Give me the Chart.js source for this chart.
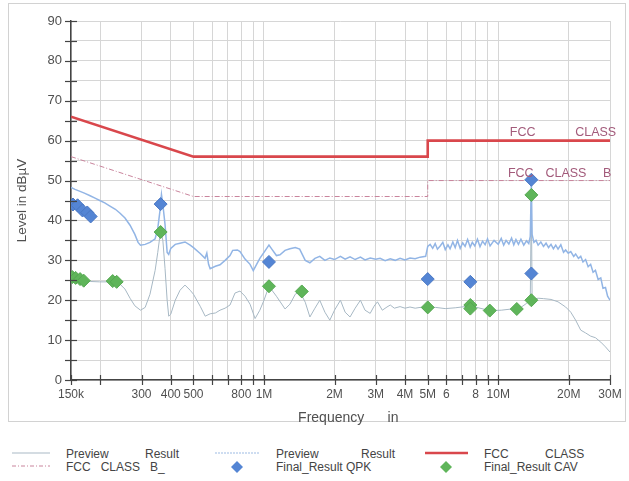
<!DOCTYPE html>
<html><head><meta charset="utf-8">
<script src="https://cdn.jsdelivr.net/npm/chart.js@4.4.0/dist/chart.umd.min.js"></script>
<style>
body{margin:0;background:#fff;width:629px;height:481px;overflow:hidden;font-family:"Liberation Sans",Arial,sans-serif;}
#frame{position:absolute;left:8px;top:3px;width:616px;height:417px;border:1px solid #d2d2d2;}
#wrap{position:absolute;left:0;top:0;width:629px;height:430px;}
.lg{position:absolute;font-size:12px;color:#444;line-height:13px;white-space:pre;}
svg{position:absolute;overflow:visible}
</style></head><body>
<div id="frame"></div>
<div id="wrap"><canvas id="c" width="629" height="430"></canvas></div>

<svg style="left:12px;top:448px" width="40" height="10"><line x1="0" y1="5" x2="38" y2="5" stroke="#a9b9c5" stroke-width="1"/></svg>
<div class="lg" style="left:66px;top:448px">Preview</div><div class="lg" style="left:145px;top:448px">Result</div>
<svg style="left:12px;top:461px" width="40" height="10"><line x1="0" y1="5" x2="38" y2="5" stroke="#c9849c" stroke-width="1" stroke-dasharray="4,2,1,2"/></svg>
<div class="lg" style="left:66px;top:461px">FCC   CLASS   B_</div>

<svg style="left:215px;top:448px" width="46" height="10"><line x1="0" y1="5" x2="45" y2="5" stroke="#9dbbe3" stroke-width="1" stroke-dasharray="2,1"/></svg>
<div class="lg" style="left:276px;top:448px">Preview</div><div class="lg" style="left:361px;top:448px">Result</div>
<svg style="left:231px;top:461px" width="12" height="12"><polygon points="6,0 12,6 6,12 0,6" fill="#5485d4"/></svg>
<div class="lg" style="left:276px;top:461px">Final_Result QPK</div>

<svg style="left:425px;top:448px" width="44" height="10"><line x1="0" y1="5" x2="43" y2="5" stroke="#d9474c" stroke-width="2.5"/></svg>
<div class="lg" style="left:484px;top:448px">FCC</div><div class="lg" style="left:545px;top:448px">CLASS</div>
<svg style="left:440px;top:461px" width="12" height="12"><polygon points="6,0 12,6 6,12 0,6" fill="#5fb55a"/></svg>
<div class="lg" style="left:484px;top:461px">Final_Result CAV</div>

<script>
// ---- data (frequency in MHz, level in dBµV) ----
const previewQpkFreq = [0.150,0.156,0.164,0.172,0.181,0.190,0.199,0.209,0.220,0.232,0.243,0.255,0.268,0.281,0.290,0.297,0.311,0.326,0.343,0.352,0.359,0.365,0.370,0.378,0.386,0.392,0.400,0.418,0.438,0.460,0.484,0.50,0.534,0.560,0.570,0.580,0.589,0.620,0.649,0.682,0.716,0.735,0.770,0.790,0.830,0.872,0.900,0.930,0.96,1.0,1.05,1.08,1.13,1.17,1.23,1.29,1.36,1.42,1.50,1.57,1.65,1.73,1.82,1.91,2.0,2.12,2.22,2.33,2.45,2.58,2.70,2.84,3.0,3.13,3.29,3.46,3.63,3.81,4.0,4.2,4.42,4.64,4.9,5.0,5.12,5.25,5.38,5.5,5.65,5.8,5.94,6.1,6.23,6.4,6.55,6.7,6.88,7.05,7.22,7.4,7.59,7.75,7.94,8.15,8.36,8.57,8.79,9.0,9.23,9.6,10.0,10.3,10.55,10.8,11.1,11.4,11.65,11.9,12.2,12.5,12.85,13.2,13.5,13.7,13.85,13.95,14.2,14.5,14.8,15.2,15.6,16.0,16.4,16.8,17.2,17.6,18.0,18.5,19.0,19.4,19.9,20.4,21.0,21.4,22.0,22.5,23.0,23.6,24.2,24.8,25.4,26.0,26.7,27.4,28.0,28.7,29.3,30.0];
const previewQpkLevel = [48.3,47.8,47.3,46.8,46.2,45.6,45.0,44.4,43.6,42.8,41.8,40.6,38.8,36.5,34.5,33.8,34.0,34.5,35.4,38.0,42.0,46.5,44.0,39.0,32.0,31.5,33.0,34.0,34.3,34.6,33.8,33.2,31.7,30.5,31.8,29.0,27.9,28.5,28.9,30.0,31.2,32.5,32.6,32.2,30.3,29.0,27.4,29.0,30.5,32.0,33.8,32.8,31.2,31.4,32.5,32.9,33.2,32.8,30.0,29.4,30.5,31.0,30.0,30.6,30.2,31.0,30.3,30.9,30.2,30.8,30.1,30.6,30.3,30.5,29.9,30.4,30.0,30.5,30.1,30.6,30.4,30.8,31.0,33.5,34.0,33.0,34.2,32.8,33.6,34.5,32.7,33.9,32.9,34.6,33.2,35.0,33.0,34.4,33.5,35.2,33.3,34.5,33.6,35.3,33.4,34.8,33.9,35.4,33.6,35.0,34.0,35.5,33.8,35.0,34.1,35.6,33.9,35.2,34.0,35.3,33.8,34.9,34.2,36.0,50.0,36.5,34.5,35.0,33.8,34.6,33.5,34.3,33.2,34.0,32.9,33.8,32.8,33.9,32.0,32.6,31.8,32.2,31.0,31.6,30.5,31.0,29.6,30.2,28.4,29.0,27.0,27.5,25.2,25.6,23.0,23.2,21.0,20.0];
const previewAvFreq = [0.150,0.156,0.164,0.172,0.181,0.199,0.220,0.232,0.243,0.255,0.268,0.281,0.297,0.311,0.326,0.343,0.352,0.362,0.370,0.378,0.386,0.392,0.400,0.418,0.438,0.460,0.484,0.50,0.534,0.561,0.589,0.620,0.649,0.682,0.716,0.752,0.790,0.830,0.872,0.916,0.96,1.0,1.05,1.13,1.23,1.29,1.36,1.42,1.50,1.57,1.65,1.73,1.82,1.91,2.0,2.12,2.22,2.33,2.45,2.58,2.70,2.84,2.95,3.05,3.2,3.35,3.46,3.6,3.81,4.0,4.2,4.42,4.64,5.0,5.4,5.94,6.55,7.22,7.6,8.36,9.2,10.3,11.4,12.5,13.2,13.7,13.85,13.95,14.8,15.6,16.8,18.0,19.4,20.4,21.4,22.5,23.6,24.8,26.0,27.4,28.7,30.0];
const previewAvLevel = [25.8,25.6,25.2,24.9,24.7,24.6,24.6,24.6,24.0,22.8,20.5,18.6,17.5,18.2,21.5,27.5,32.0,37.5,35.0,28.0,20.0,16.0,16.5,20.0,22.5,23.8,22.5,21.5,18.5,16.0,16.6,16.8,17.5,18.0,18.8,21.8,22.3,21.0,19.0,15.4,17.5,20.0,23.5,21.0,17.8,19.0,21.5,22.2,19.5,15.8,18.0,20.0,17.0,15.0,17.5,20.0,17.0,15.8,18.0,20.0,17.5,16.7,18.5,19.6,17.5,18.3,18.8,18.0,18.4,18.0,18.3,18.0,18.2,18.2,18.2,17.9,18.1,18.4,18.6,18.0,17.4,17.5,17.8,18.2,19.2,20.0,46.0,20.2,20.5,20.4,20.2,19.6,18.3,17.0,15.0,12.5,11.8,11.0,10.6,9.5,8.3,7.0];
const limitQpFreq = [0.15,0.5,5,5,30];
const limitQpLevel = [66,56,56,60,60];
const limitAvFreq = [0.15,0.5,5,5,30];
const limitAvLevel = [56,46,46,50,50];
const finalQpkFreq = [0.153,0.160,0.168,0.176,0.182,0.362,1.05,5.0,7.6,13.85,13.85];
const finalQpkLevel = [44.0,43.8,42.5,42.0,41.0,44.1,29.6,25.3,24.6,26.7,50.2];
const finalCavFreq = [0.152,0.157,0.164,0.170,0.226,0.235,0.362,1.05,1.45,5.0,7.6,7.6,9.2,12.0,13.85,13.85];
const finalCavLevel = [25.8,25.6,25.3,24.9,24.8,24.6,37.1,23.5,22.2,18.2,18.8,17.9,17.4,17.8,20.0,46.4];
const xTickValues = [0.15,0.2,0.3,0.4,0.5,0.6,0.7,0.8,0.9,1,2,3,4,5,6,7,8,9,10,20,30];
const xTickLabels = ['150k','','300','400','500','','','800','','1M','2M','3M','4M','5M','6','','8','','10M','20M','30M'];
const yTickStep = 5;

const zip = (xs, ys) => xs.map((x, i) => ({x, y: ys[i]}));

const tickCross = {
  id: 'tickCross',
  afterDraw(chart) {
    const {ctx, chartArea: a, scales: {x, y}} = chart;
    ctx.save();
    ctx.strokeStyle = '#444'; ctx.lineWidth = 1.2;
    for (let v = 0; v <= 90; v += yTickStep) {
      const py = Math.round(y.getPixelForValue(v)) + 0.5;
      ctx.beginPath(); ctx.moveTo(a.left - 6, py); ctx.lineTo(a.left + 6, py); ctx.stroke();
    }
    xTickValues.forEach(v => {
      const px = Math.round(x.getPixelForValue(v)) + 0.5;
      ctx.beginPath(); ctx.moveTo(px, a.bottom - 5); ctx.lineTo(px, a.bottom + 5); ctx.stroke();
    });
    // limit labels
    ctx.fillStyle = '#a35b7b';
    ctx.font = '12.5px "Liberation Sans", Arial, sans-serif';
    ctx.textBaseline = 'bottom';
    ctx.textAlign = 'left';
    const yq = y.getPixelForValue(60) - 2, ya = y.getPixelForValue(50) - 1;
    ctx.fillText('FCC', x.getPixelForValue(11.2), yq);
    ctx.fillText('CLASS', x.getPixelForValue(21.3), yq);
    ctx.fillText('FCC', x.getPixelForValue(11.0), ya);
    ctx.fillText('CLASS', x.getPixelForValue(15.9), ya);
    ctx.fillText('B', x.getPixelForValue(28.0), ya);
    ctx.restore();
  }
};

const font = {family: '"Liberation Sans", Arial, sans-serif', size: 12};

new Chart(document.getElementById('c'), {
  type: 'scatter',
  data: {
    datasets: [
      {label: 'Final_Result QPK', data: zip(finalQpkFreq, finalQpkLevel), pointStyle: 'rectRot', pointRadius: 6.5, backgroundColor: '#5485d4', borderColor: '#4a78c4', borderWidth: 1, showLine: false, order: 0},
      {label: 'Final_Result CAV', data: zip(finalCavFreq, finalCavLevel), pointStyle: 'rectRot', pointRadius: 6.5, backgroundColor: '#5fb55a', borderColor: '#55a851', borderWidth: 1, showLine: false, order: 1},
      {label: 'FCC CLASS', data: zip(limitQpFreq, limitQpLevel), showLine: true, borderColor: '#d9474c', borderWidth: 2.6, pointRadius: 0, order: 2},
      {label: 'FCC CLASS B_', data: zip(limitAvFreq, limitAvLevel), showLine: true, borderColor: '#c9849c', borderWidth: 1, borderDash: [5,2,1,2], pointRadius: 0, order: 3},
      {label: 'Preview Result QPK', data: zip(previewQpkFreq, previewQpkLevel), showLine: true, borderColor: '#92b5e5', borderWidth: 1.5, pointRadius: 0, order: 4},
      {label: 'Preview Result AV', data: zip(previewAvFreq, previewAvLevel), showLine: true, borderColor: '#a7b8c4', borderWidth: 1, pointRadius: 0, order: 5}
    ]
  },
  options: {
    responsive: false, animation: false,
    layout: {padding: {left: 8, top: 21, right: 19, bottom: 0}},
    plugins: {legend: {display: false}, tooltip: {enabled: false}},
    scales: {
      x: {
        type: 'logarithmic', min: 0.15, max: 30,
        afterBuildTicks: s => { s.ticks = xTickValues.map(v => ({value: v})); },
        afterFit: s => { s.height = 50; },
        ticks: {autoSkip: false, maxRotation: 0, padding: 7, color: '#505050', font,
                callback: (v, i) => xTickLabels[i]},
        grid: {color: '#d6d6d6', borderDash: [1,3], drawTicks: false},
        border: {display: true, color: '#444', width: 1.5},
        title: {display: true, text: '    Frequency      in', color: '#505050', font: {...font, size: 14}, padding: {top: 0, bottom: 3}}
      },
      y: {
        min: 0, max: 90,
        afterFit: s => { s.width = 63; },
        ticks: {stepSize: yTickStep, padding: 9, color: '#505050', font: {...font, size: 13},
                callback: v => (v % 10 === 0 ? v : '')},
        grid: {color: '#d6d6d6', borderDash: [1,3], drawTicks: false},
        border: {display: true, color: '#444', width: 1.5},
        title: {display: true, text: 'Level in dBµV', color: '#505050', font: {...font, size: 13.5}, padding: {top: 6, bottom: 0}}
      }
    }
  },
  plugins: [tickCross]
});
</script>
</body></html>
